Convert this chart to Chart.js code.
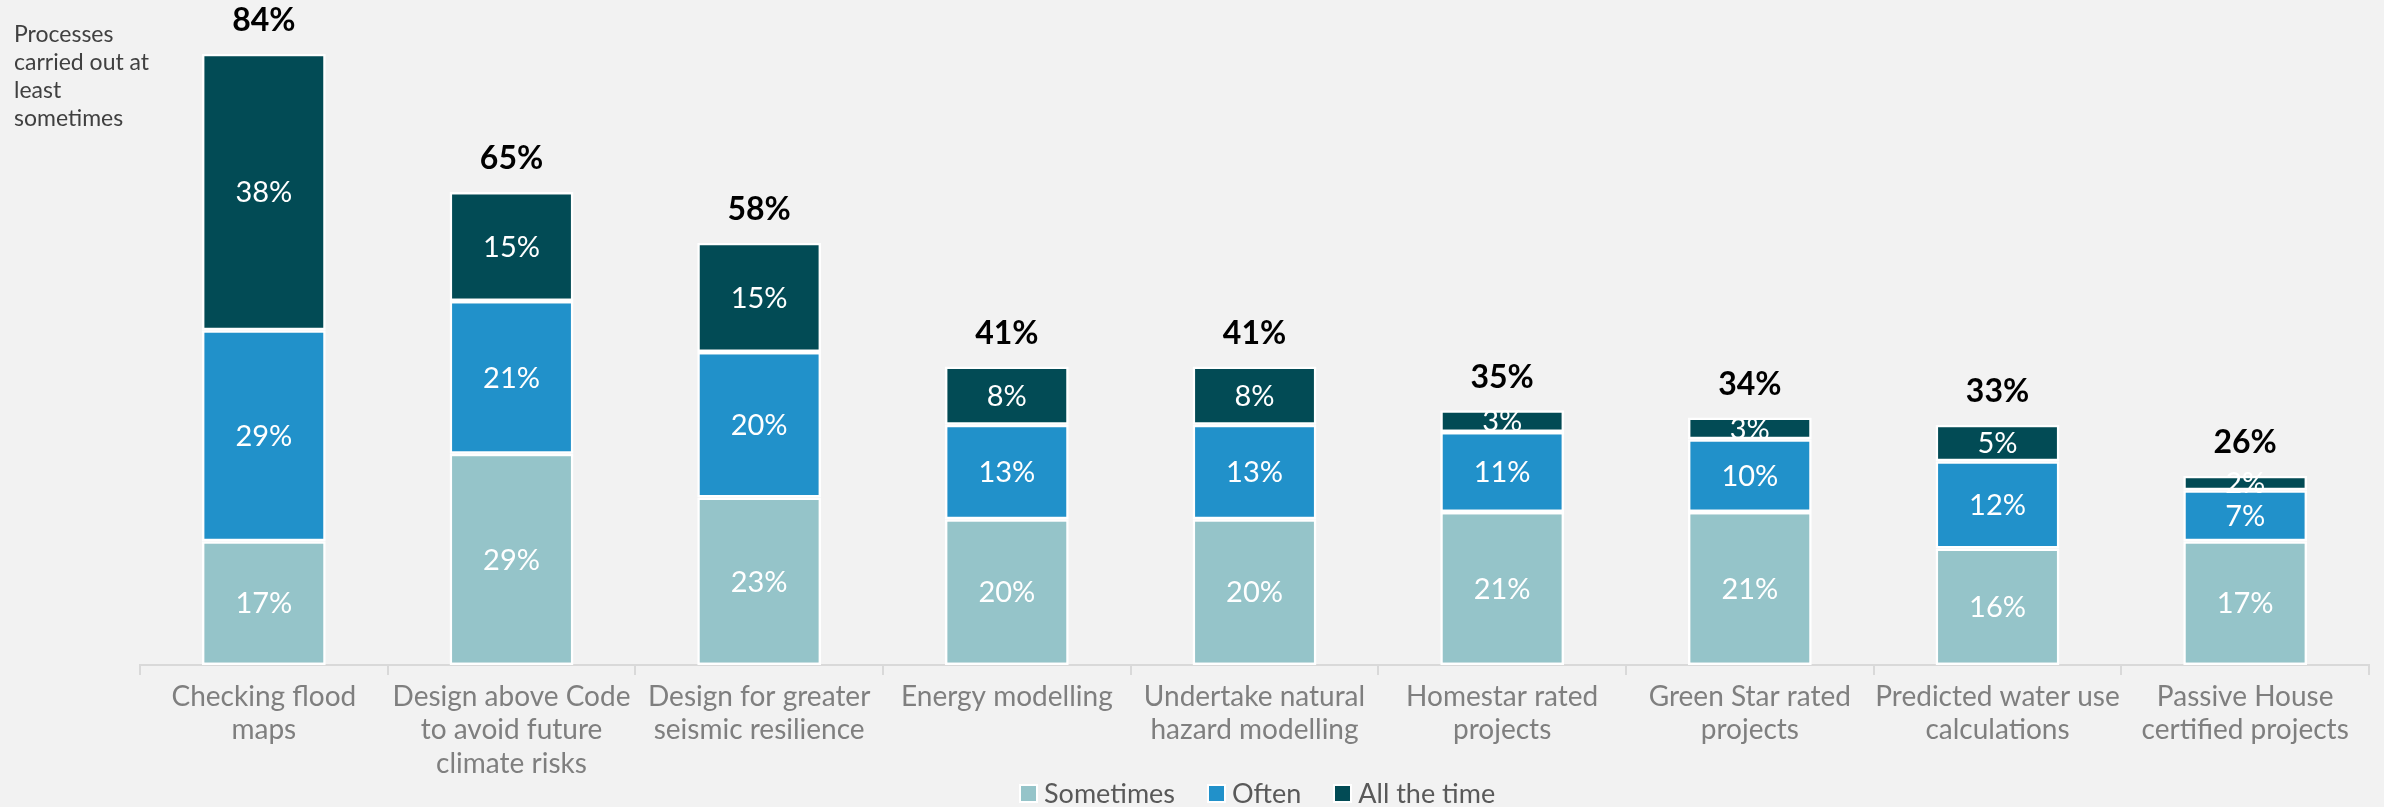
<!DOCTYPE html>
<html>
<head>
<meta charset="utf-8">
<script src="https://cdn.jsdelivr.net/npm/chart.js@4.4.0/dist/chart.umd.min.js"></script>
<style>
  body { margin: 0; background: #f2f2f2; }
  #caixa { position: relative; width: 2384px; height: 807px; background: #f2f2f2; }
  #nota {
    position: absolute; left: 14px; top: 19px;
    font: 23px/28px Lato, sans-serif; color: #404040;
  }
  #legenda {
    position: absolute; left: 1019px; top: 777px;
    display: flex; align-items: center;
    font: 27px/32px Lato, sans-serif; color: #595959;
  }
  #legenda span.item { display: flex; align-items: center; margin-right: 32px; }
  #legenda span.cor { width: 15px; height: 15px; border: 2px solid #fff; margin-right: 6px; }
</style>
</head>
<body>
<div id="caixa">
  <canvas id="grafico"></canvas>
  <div id="nota">Processes<br>carried out at<br>least<br>sometimes</div>
  <div id="legenda"></div>
</div>
<script>
// categorias (já quebradas em linhas como no original)
const categorias = [
  ['Checking flood', 'maps'],
  ['Design above Code', 'to avoid future', 'climate risks'],
  ['Design for greater', 'seismic resilience'],
  ['Energy modelling'],
  ['Undertake natural', 'hazard modelling'],
  ['Homestar rated', 'projects'],
  ['Green Star rated', 'projects'],
  ['Predicted water use', 'calculations'],
  ['Passive House', 'certified projects']
];

const sometimes = [17, 29, 23, 20, 20, 21, 21, 16, 17];
const often     = [29, 21, 20, 13, 13, 11, 10, 12, 7];
const allTime   = [38, 15, 15, 8, 8, 3, 3, 5, 2];
const totais    = [84, 65, 58, 41, 41, 35, 34, 33, 26];

const series = ['Sometimes', 'Often', 'All the time'];
const cores  = ['#95c4c9', '#2191ca', '#024b55'];

/* =========================
   RÓTULOS DAS BARRAS
========================= */
const rotulos = {
  id: 'rotulos',
  afterDatasetsDraw(chart) {
    const ctx = chart.ctx;
    ctx.save();
    ctx.textAlign = 'center';
    ctx.textBaseline = 'middle';

    chart.data.datasets.forEach((ds, i) => {
      chart.getDatasetMeta(i).data.forEach((bar, j) => {
        const { x, y, base } = bar.getProps(['x', 'y', 'base'], true);
        ctx.fillStyle = '#ffffff';
        ctx.font = '29px Lato';
        ctx.fillText(ds.data[j] + '%', x, (y + base) / 2 + 1);
      });
    });

    const topo = chart.getDatasetMeta(chart.data.datasets.length - 1);
    topo.data.forEach((bar, j) => {
      ctx.fillStyle = '#000000';
      ctx.font = 'bold 32px Lato';
      ctx.fillText(totais[j] + '%', bar.x, bar.y - 33);
    });
    ctx.restore();
  }
};

const ctx = document.getElementById('grafico');

new Chart(ctx, {
  type: 'bar',
  data: {
    labels: categorias,
    datasets: [sometimes, often, allTime].map((dados, i) => ({
      label: series[i],
      data: dados,
      backgroundColor: cores[i],
      borderColor: '#ffffff',
      borderWidth: 2.5,
      borderSkipped: false,
      categoryPercentage: 1,
      barPercentage: 0.5
    }))
  },
  options: {
    responsive: true,
    maintainAspectRatio: false,
    animation: false,
    layout: { padding: { left: 140, right: 15, top: 10, bottom: 21 } },
    plugins: {
      legend: { display: false },
      tooltip: { enabled: false }
    },
    scales: {
      x: {
        stacked: true,
        grid: {
          offset: true,
          drawOnChartArea: false,
          drawTicks: true,
          tickLength: 10,
          color: '#d9d9d9',
          lineWidth: 2
        },
        border: { display: true, color: '#d9d9d9', width: 2 },
        ticks: {
          color: '#7f7f7f',
          font: { family: 'Lato', size: 28, lineHeight: 1.18 },
          padding: 6,
          maxRotation: 0,
          autoSkip: false
        }
      },
      y: {
        stacked: true,
        display: false,
        min: 0,
        max: 90
      }
    }
  },
  plugins: [rotulos]
});

// legenda
const legenda = document.getElementById('legenda');
series.forEach((nome, i) => {
  const item = document.createElement('span');
  item.className = 'item';
  item.innerHTML = `<span class="cor" style="background:${cores[i]}"></span>${nome}`;
  legenda.appendChild(item);
});
</script>
</body>
</html>
